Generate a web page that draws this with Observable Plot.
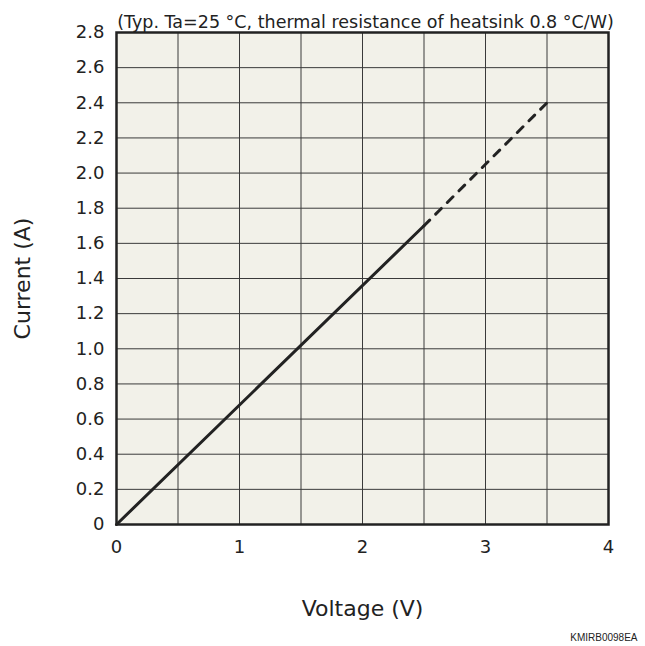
<!DOCTYPE html>
<html>
<head>
<meta charset="utf-8">
<script src="https://cdn.jsdelivr.net/npm/d3@7"></script>
<script src="https://cdn.jsdelivr.net/npm/@observablehq/plot@0.6"></script>
<style>
  body { margin: 0; background: #fff; }
  svg { font-family: "DejaVu Sans", Verdana, sans-serif; }
</style>
</head>
<body>
<div id="chart"></div>
<script>
const titleText = "(Typ. Ta=25 °C, thermal resistance of heatsink 0.8 °C/W)";
const xLabel = "Voltage (V)";
const yLabel = "Current (A)";
const captionText = "KMIRB0098EA";

const xTicks = [0, 1, 2, 3, 4];
const yTicks = [0, 0.2, 0.4, 0.6, 0.8, 1.0, 1.2, 1.4, 1.6, 1.8, 2.0, 2.2, 2.4, 2.6, 2.8];
const xGrid = [0.5, 1, 1.5, 2, 2.5, 3, 3.5];
const yGrid = [0.2, 0.4, 0.6, 0.8, 1.0, 1.2, 1.4, 1.6, 1.8, 2.0, 2.2, 2.4, 2.6];

// measured segment (solid) and extrapolated segment (dashed)
const solidV = [0, 2.5];
const solidI = [0, 1.7];
const dashV = [2.5, 3.5];
const dashI = [1.7, 2.4];

const solid = solidV.map((v, i) => ({v, i: solidI[i]}));
const dashed = dashV.map((v, i) => ({v, i: dashI[i]}));

const ink = "#222";
const fmtY = d => d === 0 ? "0" : d.toFixed(1);

const chart = Plot.plot({
  width: 645,
  height: 646,
  marginLeft: 116,
  marginRight: 37,
  marginTop: 32,
  marginBottom: 122,
  style: {fontFamily: '"DejaVu Sans", Verdana, sans-serif', fontSize: "18px", color: ink, background: "#fff"},
  x: {domain: [0, 4], label: null},
  y: {domain: [0, 2.8], label: null},
  marks: [
    Plot.frame({fill: "#f2f1e9", stroke: "none"}),
    Plot.ruleX(xGrid, {stroke: "#3a3a3a", strokeWidth: 1}),
    Plot.ruleY(yGrid, {stroke: "#3a3a3a", strokeWidth: 1}),
    Plot.frame({stroke: ink, strokeWidth: 2.5}),
    Plot.axisX(xTicks, {tickSize: 0, tickPadding: 16, fontSize: 18, tickFormat: d => String(d), label: null}),
    Plot.axisY(yTicks, {tickSize: 0, tickPadding: 12, fontSize: 18, tickFormat: fmtY, label: null}),
    Plot.line(solid, {x: "v", y: "i", stroke: ink, strokeWidth: 3}),
    Plot.line(dashed, {x: "v", y: "i", stroke: ink, strokeWidth: 3, strokeDasharray: "8,8.5"}),
    Plot.text([titleText], {frameAnchor: "top", lineAnchor: "middle", textAnchor: "middle", dx: 3, dy: -10.6, fontSize: 17.5, fill: ink, text: d => d}),
    Plot.text([xLabel], {frameAnchor: "bottom", lineAnchor: "middle", textAnchor: "middle", dy: 84, fontSize: 22, fill: ink, text: d => d}),
    Plot.text([yLabel], {frameAnchor: "left", lineAnchor: "middle", textAnchor: "middle", dx: -94, rotate: -90, fontSize: 22, fill: ink, text: d => d}),
    Plot.text([captionText], {frameAnchor: "bottom-right", lineAnchor: "middle", textAnchor: "end", dx: 29, dy: 113.5, fontSize: 10, fontFamily: '"Liberation Sans", Arial, sans-serif', fill: ink, text: d => d})
  ]
});
document.getElementById("chart").appendChild(chart);
</script>
</body>
</html>
